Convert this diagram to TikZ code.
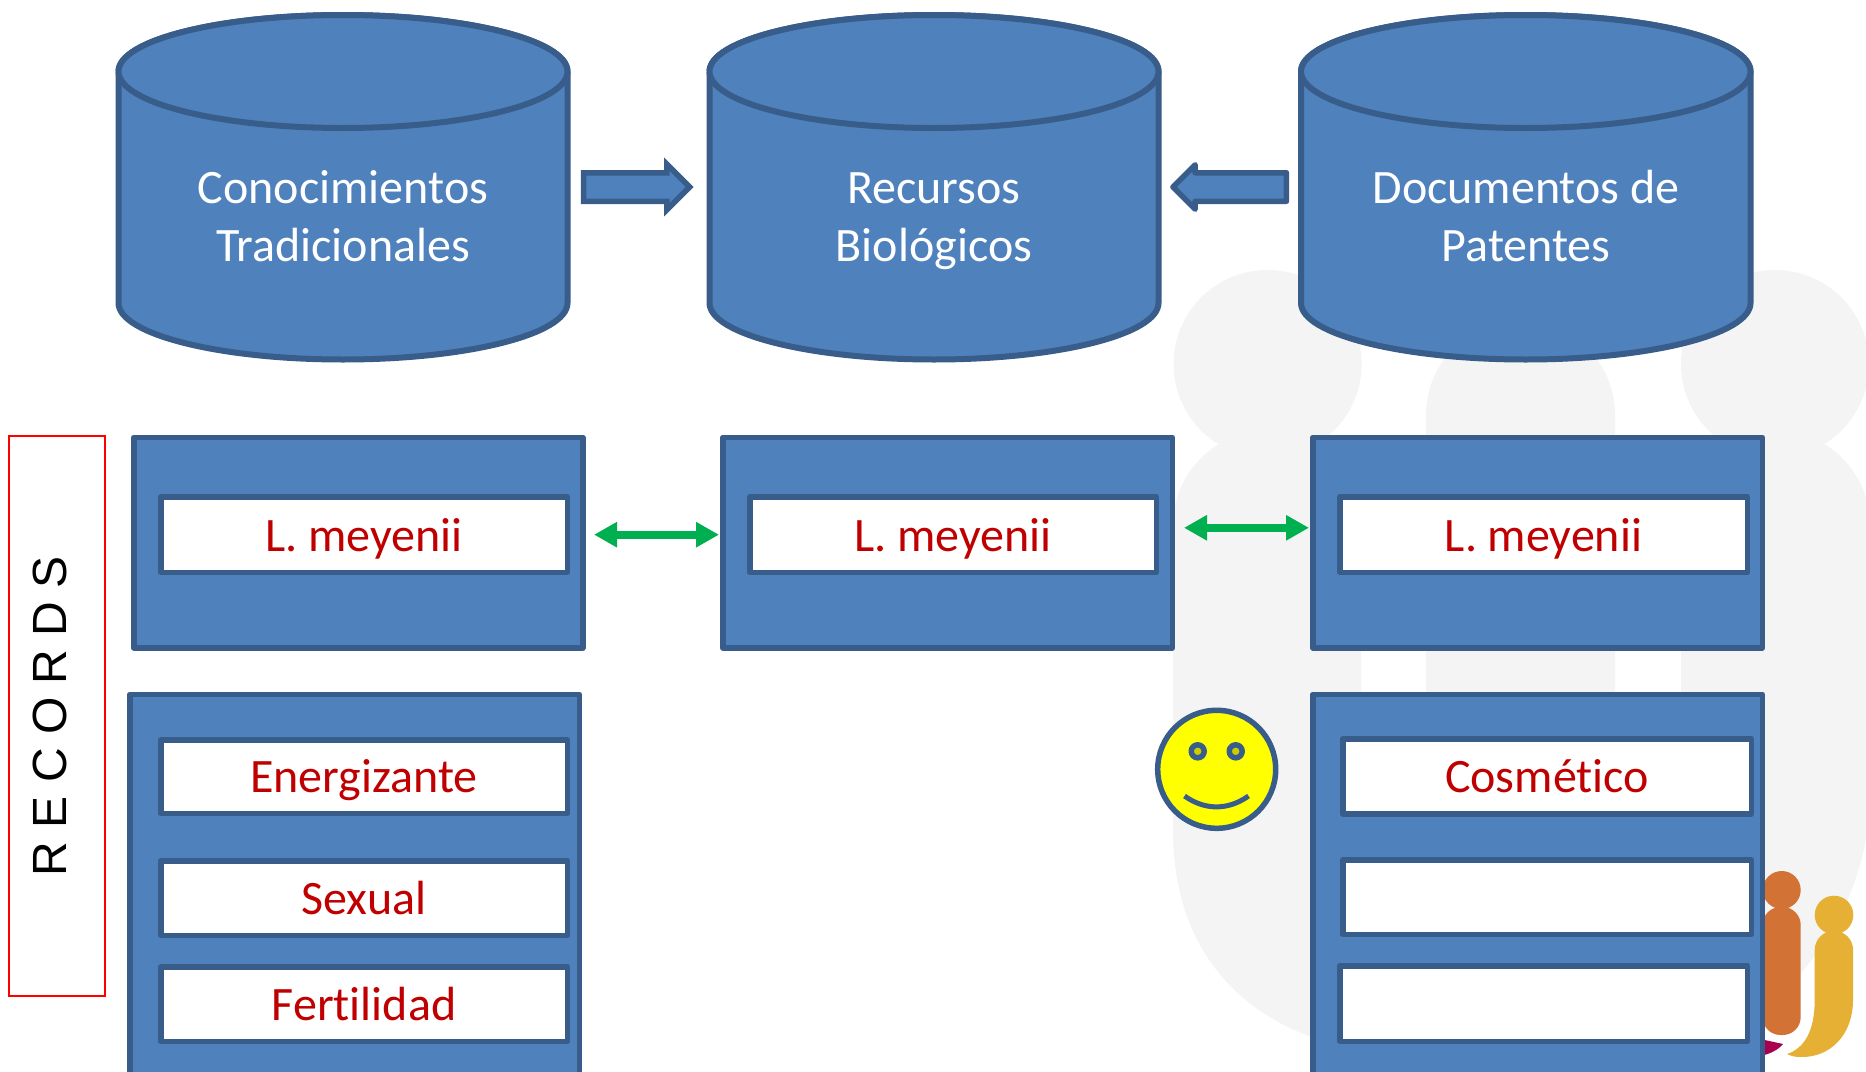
\documentclass[tikz,border=0pt]{standalone}
\usepackage{fontspec}
\setmainfont{Carlito}[Ligatures={NoCommon}]
\newfontfamily\recfont{Liberation Sans}
\usetikzlibrary{shapes.arrows,arrows.meta}
\definecolor{bluefill}{HTML}{4F81BD}
\definecolor{blueline}{HTML}{385D8A}
\definecolor{redtext}{HTML}{C00000}
\definecolor{wm}{HTML}{F4F4F4}
\definecolor{greenarrow}{HTML}{00B050}
\definecolor{orangefig}{HTML}{D27235}
\definecolor{yellowfig}{HTML}{E6B035}
\definecolor{magentafig}{HTML}{A8004F}
\definecolor{facefill}{HTML}{FFFF00}
\definecolor{eyefill}{HTML}{CCCC00}
\tikzset{
  x=1pt,y=-1pt,
  shapeline/.style={draw=blueline,line width=5.5pt,line join=round},
  cyltext/.style={text=white,font=\fontsize{48}{58}\selectfont,align=center,inner sep=0pt},
  bluebox/.style={shapeline,fill=bluefill,inner sep=0pt},
  whitebox/.style={shapeline,fill=white,text=redtext,font=\fontsize{48}{58}\selectfont,inner sep=0pt,text height=36pt,text depth=4pt},
  latinlabel/.style={text height=37pt,text depth=3pt},
  blockarrow/.style={single arrow,shapeline,fill=bluefill,inner xsep=0pt,inner ysep=11.5pt,single arrow tip angle=90},
  greenlink/.style={draw=greenarrow,line width=8pt,{Triangle[length=23pt,width=24pt]}-{Triangle[length=23pt,width=24pt]}},
}
% outer box: name, x0, y0, x1, y1, style, text
\newcommand{\outerbox}[7]{\node[#6,minimum width={(#4-#2-5.5)*1pt},minimum height={(#5-#3-5.5)*1pt}] (#1) at ({(#2+#4)/2},{(#3+#5)/2}) {#7};}
% cylinder: left x, right x
\newcommand{\cyl}[2]{%
  \path[shapeline,line width=6pt,fill=bluefill] (#1,71.5) -- (#1,303) arc[start angle=180,end angle=360,x radius={(#2-#1)/2*1pt},y radius=56.5pt] -- (#2,71.5) arc[start angle=0,end angle=180,x radius={(#2-#1)/2*1pt},y radius=56.5pt] -- cycle;
  \path[shapeline,line width=6pt,fill=bluefill] (#1,71.5) arc[start angle=180,end angle=540,x radius={(#2-#1)/2*1pt},y radius=56.5pt];
}
\begin{document}
\begin{tikzpicture}
\useasboundingbox (0,0) rectangle (1866,1071);
\clip (0,0) rectangle (1866,1071);
\fill[white] (0,0) rectangle (1866,1071);
% watermark
\fill[wm] (1267.6,364) circle[radius=94];
\fill[wm] (1775,364) circle[radius=94];
\fill[wm] (1173,525) arc[start angle=180,end angle=0,radius=94pt] -- (1361,1071) -- (1320,1040)
  .. controls (1230,1010) and (1173,940) .. (1173,830) -- cycle;
\fill[wm] (1426,415) arc[start angle=180,end angle=0,radius=94.5pt] -- (1615,900) -- (1426,900) -- cycle;
\fill[wm] (1681,525) arc[start angle=180,end angle=0,radius=94.5pt] -- (1870,790)
  .. controls (1870,880) and (1830,950) .. (1770,1005) -- (1681,1005) -- cycle;
% logo figures
\fill[magentafig] (1760,1039) -- (1783,1044) .. controls (1778,1050) and (1770,1054) .. (1760,1056) -- cycle;
\fill[orangefig] (1781.7,890) circle[radius=19];
\fill[orangefig,rounded corners=18pt] (1762.5,907) rectangle (1800.7,1035);
\fill[yellowfig] (1834,915) circle[radius=19.3];
\fill[yellowfig] (1814.7,950) arc[start angle=180,end angle=0,radius=19.2pt] -- (1853,1000)
  .. controls (1853,1035) and (1830,1058) .. (1800,1057) .. controls (1795,1057) and (1791,1056) .. (1787,1054)
  .. controls (1805,1048) and (1814.7,1030) .. (1814.7,1000) -- cycle;
% cylinders
\cyl{118.5}{567.5}
\cyl{709.5}{1158.5}
\cyl{1301}{1750.5}
\node[cyltext] (c1) at (343,216) {Conocimientos\\Tradicionales};
\node[cyltext] (c2) at (934,221.5) {Recursos\\Biológicos};
\node[cyltext] (c3) at (1526,216) {Documentos de\\Patentes};
% block arrows
\node[blockarrow,line join=miter,single arrow head extend=8.5pt,minimum height=106pt] (a1) at (629.5,187) {};
\node[blockarrow,shape border rotate=180,single arrow head extend=8pt,minimum height=113.5pt] (a2) at (1236.8,187) {};
% records
\node[draw=red,line width=2pt,minimum width=96pt,minimum height=560pt,inner sep=0pt] (rec) at (57,716) {};
\node[rotate=90,font=\recfont\fontsize{48}{58}\selectfont,inner sep=0pt] (rect) at (49.5,716) {R E C O R D S};
% row 1
\outerbox{b1}{131}{434.5}{585.5}{650.7}{bluebox}{}
\outerbox{b2}{720}{434.5}{1175}{650.7}{bluebox}{}
\outerbox{b3}{1310}{434.5}{1765}{650.7}{bluebox}{}
\outerbox{w1}{158}{494}{570}{575}{whitebox,latinlabel}{L. meyenii}
\outerbox{w2}{747}{494}{1159}{575}{whitebox,latinlabel}{L. meyenii}
\outerbox{w3}{1337}{494}{1750}{575}{whitebox,latinlabel}{L. meyenii}
% row 2
\outerbox{b4}{127}{691.5}{582}{1095}{bluebox}{}
\outerbox{b5}{1310}{691.5}{1765}{1095}{bluebox}{}
\outerbox{e1}{158}{737}{570}{816}{whitebox}{Energizante}
\outerbox{e2}{158}{858}{570}{938}{whitebox}{Sexual}
\outerbox{e3}{158}{964}{570}{1044}{whitebox}{Fertilidad}
\outerbox{k1}{1340}{736}{1754}{816.6}{whitebox}{Cosmético}
\outerbox{k2}{1340}{857}{1754}{937}{whitebox}{}
\outerbox{k3}{1337}{963}{1750}{1044}{whitebox}{}
% green links
\draw[greenlink,shorten <=8.5pt,shorten >=1pt] ([yshift=7.9pt]b1.east) -- ([yshift=7.9pt]b2.west);
\draw[greenlink,shorten <=9pt,shorten >=1pt] ([yshift=14.8pt]b2.east) -- ([yshift=14.8pt]b3.west);
% smiley
\node[circle,shapeline,fill=facefill,minimum size=118pt,inner sep=0pt] (face) at (1216.7,769.3) {};
\node[circle,shapeline,fill=eyefill,minimum size=13pt,inner sep=0pt] (eyeL) at (1197.7,751.3) {};
\node[circle,shapeline,fill=eyefill,minimum size=13pt,inner sep=0pt] (eyeR) at (1235.7,751.3) {};
\draw[blueline,line width=5pt] (1184.5,796) .. controls (1205,810.5) and (1228,810.5) .. (1248.5,796);
\end{tikzpicture}
\end{document}
